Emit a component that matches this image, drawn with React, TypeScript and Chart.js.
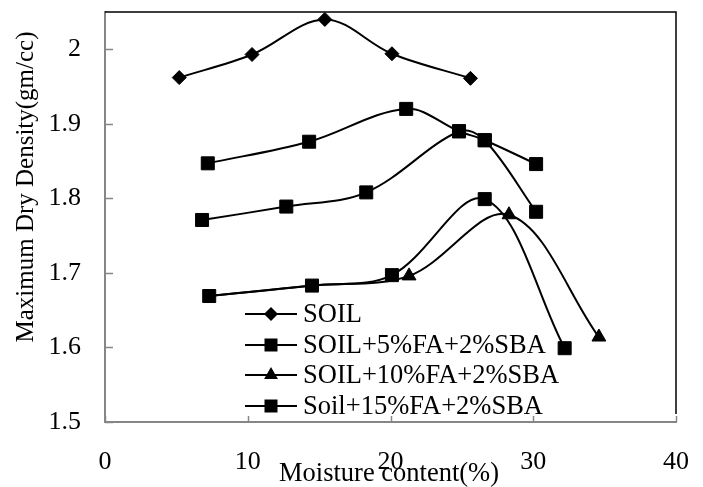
import React, { useEffect, useRef } from 'react';
import { Chart, registerables } from 'chart.js';

Chart.register(...registerables);

// ---- data ----
const xTicks = [0, 10, 20, 30, 40];
const yTicks = [1.5, 1.6, 1.7, 1.8, 1.9, 2.0];

const soilX = [5.2, 10.3, 15.4, 20.1, 25.6];
const soilY = [1.962, 1.993, 2.04, 1.994, 1.961];

const fa5X = [7.2, 14.3, 21.1, 24.8, 26.6, 30.2];
const fa5Y = [1.847, 1.876, 1.92, 1.89, 1.878, 1.846];

const midX = [6.8, 12.7, 18.3, 24.8, 26.6, 30.2];
const midY = [1.771, 1.789, 1.808, 1.89, 1.878, 1.782];

const fa10X = [7.3, 14.5, 21.3, 28.3, 34.6];
const fa10Y = [1.669, 1.683, 1.696, 1.778, 1.614];

const fa15X = [7.3, 14.5, 20.1, 26.6, 32.2];
const fa15Y = [1.669, 1.683, 1.697, 1.799, 1.599];

const legendLabels = ['SOIL', 'SOIL+5%FA+2%SBA', 'SOIL+10%FA+2%SBA', 'Soil+15%FA+2%SBA'];
const legendMarkers = ['diamond', 'square', 'triangle', 'square'];

const xTitle = 'Moisture content(%)';
const yTitle = 'Maximum Dry Density(gm/cc)';

const FONT = '"Liberation Serif", "Times New Roman", "DejaVu Serif", serif';
const GRAY = '#868686';

const toPts = (xs: number[], ys: number[]) => xs.map((x, i) => ({ x, y: ys[i] }));

function drawMarker(ctx: CanvasRenderingContext2D, kind: string, x: number, y: number) {
  ctx.beginPath();
  if (kind === 'diamond') {
    const r = 7;
    ctx.moveTo(x, y - r);
    ctx.lineTo(x + r, y);
    ctx.lineTo(x, y + r);
    ctx.lineTo(x - r, y);
  } else if (kind === 'square') {
    const h = 6.5;
    ctx.rect(x - h, y - h, 2 * h, 2 * h);
  } else {
    const r = 8;
    for (let k = 0; k < 3; k++) {
      const a = (k * 2 * Math.PI) / 3;
      const px = x + Math.sin(a) * r;
      const py = y - Math.cos(a) * r;
      if (k === 0) ctx.moveTo(px, py);
      else ctx.lineTo(px, py);
    }
  }
  ctx.closePath();
  ctx.fill();
}

const decorPlugin = {
  id: 'decor',
  beforeDatasetsDraw(chart: any) {
    const { ctx, chartArea } = chart;
    const xs = chart.scales.x;
    const ys = chart.scales.y;
    ctx.save();
    ctx.strokeStyle = GRAY;
    ctx.lineWidth = 1.5;
    yTicks.forEach((v) => {
      const py = Math.round(ys.getPixelForValue(v)) + 0.5;
      ctx.beginPath();
      ctx.moveTo(chartArea.left, py);
      ctx.lineTo(chartArea.left + 8, py);
      ctx.stroke();
    });
    xTicks.forEach((v) => {
      const px = Math.round(xs.getPixelForValue(v)) + 0.5;
      ctx.beginPath();
      ctx.moveTo(px, chartArea.bottom);
      ctx.lineTo(px, chartArea.bottom - 6);
      ctx.stroke();
    });
    ctx.strokeStyle = '#000';
    ctx.lineWidth = 1.5;
    ctx.beginPath();
    ctx.moveTo(chartArea.left, chartArea.top);
    ctx.lineTo(chartArea.right, chartArea.top);
    ctx.lineTo(chartArea.right, chartArea.bottom - 8);
    ctx.stroke();
    ctx.restore();
  },
  afterDraw(chart: any) {
    const { ctx } = chart;
    ctx.save();
    ctx.fillStyle = '#000';
    ctx.font = `26.5px ${FONT}`;
    ctx.textAlign = 'center';
    ctx.textBaseline = 'alphabetic';
    ctx.fillText(xTitle, 389, 481);
    ctx.font = `25px ${FONT}`;
    ctx.save();
    ctx.translate(33, 187);
    ctx.rotate(-Math.PI / 2);
    ctx.fillText(yTitle, 0, 0);
    ctx.restore();
    const rows = [314, 345, 375, 406];
    ctx.font = `26.5px ${FONT}`;
    ctx.textAlign = 'left';
    ctx.textBaseline = 'middle';
    legendLabels.forEach((lab, i) => {
      const y = rows[i];
      ctx.strokeStyle = '#000';
      ctx.lineWidth = 2;
      ctx.beginPath();
      ctx.moveTo(245, y);
      ctx.lineTo(297, y);
      ctx.stroke();
      ctx.fillStyle = '#000';
      drawMarker(ctx, legendMarkers[i], 271, y);
      ctx.fillText(lab, 303, y + 1);
    });
    ctx.restore();
  },
};

export default function App() {
  const ref = useRef<HTMLCanvasElement | null>(null);

  useEffect(() => {
    let chart: any = null;
    let cancelled = false;
    const common = {
      borderColor: '#000',
      backgroundColor: '#000',
      pointBackgroundColor: '#000',
      pointBorderColor: '#000',
      borderWidth: 2,
      pointBorderWidth: 1,
      tension: 0.35,
      fill: false,
    };
    const make = () => {
      if (cancelled || !ref.current) return;
      chart = new Chart(ref.current, {
        type: 'line',
        data: {
          datasets: [
            { ...common, label: 'SOIL', data: toPts(soilX, soilY), pointStyle: 'rectRot', pointRadius: 7 },
            { ...common, label: 'SOIL+5%FA+2%SBA', data: toPts(fa5X, fa5Y), pointStyle: 'rect', pointRadius: 9.2 },
            { ...common, label: 'series', data: toPts(midX, midY), pointStyle: 'rect', pointRadius: 9.2 },
            { ...common, label: 'SOIL+10%FA+2%SBA', data: toPts(fa10X, fa10Y), pointStyle: 'triangle', pointRadius: [0, 0, 8, 8, 8] },
            { ...common, label: 'Soil+15%FA+2%SBA', data: toPts(fa15X, fa15Y), pointStyle: 'rect', pointRadius: 9.2 },
          ],
        },
        options: {
          animation: false,
          responsive: true,
          maintainAspectRatio: false,
          layout: { padding: { top: 12, right: 27, left: 0, bottom: 0 } },
          plugins: { legend: { display: false }, tooltip: { enabled: false } },
          scales: {
            x: {
              type: 'linear',
              min: 0,
              max: 40,
              afterFit: (s: any) => { s.height = 65; s.paddingLeft = 0; s.paddingRight = 0; },
              afterBuildTicks: (s: any) => { s.ticks = xTicks.map((v) => ({ value: v })); },
              grid: { display: false, drawTicks: false },
              border: { display: true, color: GRAY, width: 2 },
              ticks: {
                autoSkip: false,
                maxRotation: 0,
                padding: 25,
                color: '#000',
                font: { family: FONT, size: 26 },
                callback: (v: any) => String(v),
              },
            },
            y: {
              type: 'linear',
              min: 1.5,
              max: 2.05,
              afterFit: (s: any) => { s.width = 105; s.paddingTop = 0; s.paddingBottom = 0; },
              afterBuildTicks: (s: any) => { s.ticks = yTicks.map((v) => ({ value: v })); },
              grid: { display: false, drawTicks: false },
              border: { display: true, color: GRAY, width: 2 },
              ticks: {
                autoSkip: false,
                padding: 24,
                color: '#000',
                font: { family: FONT, size: 26 },
                callback: (v: any) => String(Number(Number(v).toFixed(2))),
              },
            },
          },
        } as any,
        plugins: [decorPlugin],
      });
    };
    const fonts: any = (document as any).fonts;
    if (fonts && fonts.load) {
      fonts.load('25px "Liberation Serif"').then(make, make);
    } else {
      make();
    }
    return () => {
      cancelled = true;
      if (chart) chart.destroy();
    };
  }, []);

  return (
    <div style={{ position: 'absolute', left: 0, top: 0, width: 703, height: 487, background: '#fff' }}>
      <span style={{ position: 'absolute', left: -9999, fontFamily: '"Liberation Serif"' }}>SOIL 1.5</span>
      <canvas ref={ref} />
    </div>
  );
}
